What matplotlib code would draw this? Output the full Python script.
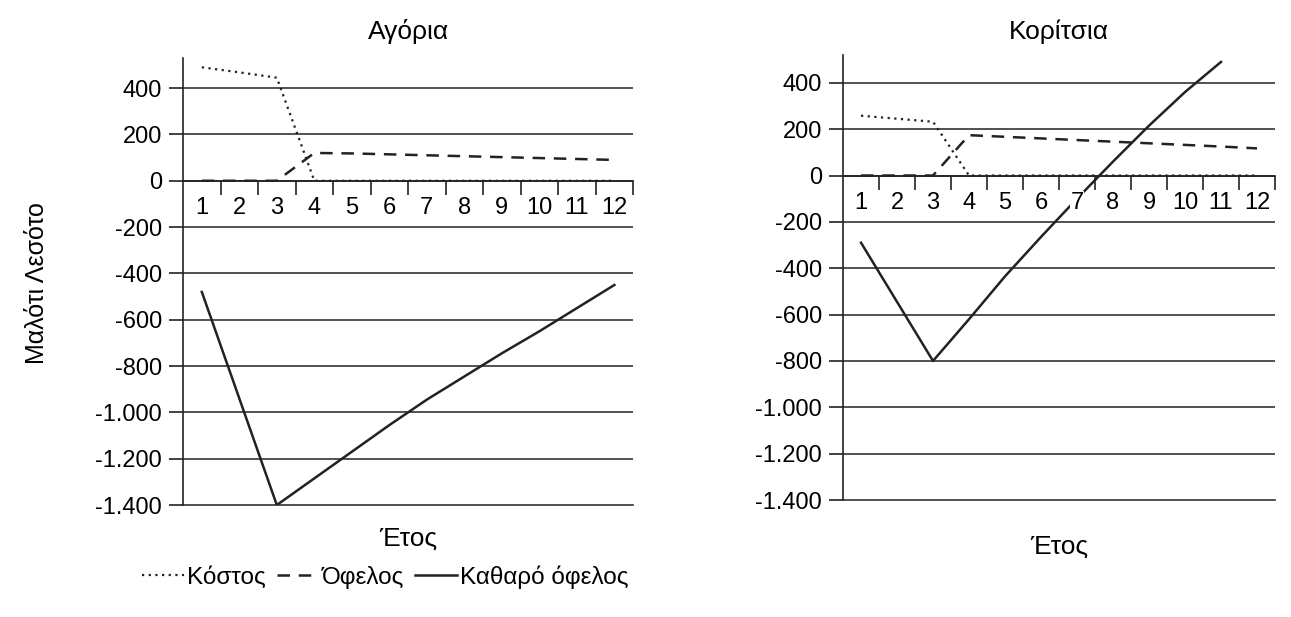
import matplotlib
matplotlib.use("Agg")
import matplotlib.pyplot as plt

# Δεδομένα (τιμές διαβασμένες από το γράφημα)
years = list(range(1, 13))

boys_cost = [490, 468, 445, 0, 0, 0, 0, 0, 0, 0, 0, 0]
boys_benefit = [0, 0, 0, 120, 118, 114, 110, 106, 102, 98, 94, 90]
boys_net = [-480, -940, -1400, -1285, -1170, -1055, -945, -845, -745, -650, -550, -450]

girls_cost = [258, 245, 232, 0, 0, 0, 0, 0, 0, 0, 0, 0]
girls_benefit = [0, 0, 0, 174, 167, 160, 153, 146, 139, 132, 125, 117]
girls_years_net = list(range(1, 12))
girls_net = [-290, -545, -800, -620, -435, -265, -100, 60, 215, 360, 490]

ytick_vals = [400, 200, 0, -200, -400, -600, -800, -1000, -1200, -1400]
ytick_labels = ["400", "200", "0", "-200", "-400", "-600", "-800",
                "-1.000", "-1.200", "-1.400"]

titles = ["Αγόρια", "Κορίτσια"]
xlabel = "Έτος"
ylabel = "Μαλότι Λεσότο"
legend_labels = ["Κόστος", "Όφελος", "Καθαρό όφελος"]

plt.rcParams.update({
    "font.family": ["Liberation Sans", "DejaVu Sans"],
    "font.size": 17,
})

INK = "#222222"

fig = plt.figure(figsize=(12.91, 6.17), dpi=100)
ax1 = fig.add_axes([0.1418, 0.1815, 0.3486, 0.7245])
ax2 = fig.add_axes([0.653, 0.1896, 0.3346, 0.7213])


def draw_panel(ax, cost, benefit, net_x, net, title, ytop, xlab_y, tpad):
    l1, = ax.plot(years, cost, linestyle=(0, (1, 2)), color=INK, lw=1.6)
    l2, = ax.plot(years, benefit, linestyle=(0, (5, 3.5)), color=INK, lw=1.8)
    l3, = ax.plot(net_x, net, linestyle="-", color=INK, lw=1.8)

    ax.set_xlim(0.5, 12.5)
    ax.set_ylim(-1400, ytop)

    # άξονας x πάνω στο μηδέν
    for s in ["top", "right"]:
        ax.spines[s].set_visible(False)
    ax.spines["bottom"].set_position(("data", 0))
    for s in ["bottom", "left"]:
        ax.spines[s].set_color(INK)
        ax.spines[s].set_linewidth(1.2)

    ax.set_xticks([y + 0.5 for y in years])
    ax.set_xticklabels([])
    ax.set_xticks(years, minor=True)
    ax.set_xticklabels([str(y) for y in years], minor=True)
    ax.tick_params(axis="x", which="major", direction="out", length=10,
                   width=1.2, color=INK)
    ax.tick_params(axis="x", which="minor", length=0, pad=12, labelsize=17)
    for lbl in ax.get_xticklabels(minor=True):
        lbl.set_bbox(dict(facecolor="white", edgecolor="none", pad=0.5))
    ax.xaxis.set_zorder(3)

    ax.set_yticks(ytick_vals)
    ax.set_yticklabels(ytick_labels)
    ax.tick_params(axis="y", direction="out", length=10, width=1.2,
                   color=INK, labelsize=17, pad=5)
    ax.yaxis.grid(True, color="#333333", lw=1.2)
    ax.yaxis.get_gridlines()[-1].set_clip_on(False)

    ax.set_title(title, fontsize=19, pad=tpad)
    ax.text(0.5, xlab_y, xlabel, transform=ax.transAxes, ha="center",
            va="center", fontsize=19)
    return l1, l2, l3


handles = draw_panel(ax1, boys_cost, boys_benefit, years, boys_net,
                     titles[0], 530, -0.075, 14)
draw_panel(ax2, girls_cost, girls_benefit, girls_years_net, girls_net,
           titles[1], 520, -0.105, 11.5)

fig.text(0.029, 0.541, ylabel, rotation=90, ha="center", va="center",
         fontsize=18)

fig.legend(handles, legend_labels, loc="center left",
           bbox_to_anchor=(0.093, 0.065), ncol=3, frameon=False,
           handlelength=1.75, handletextpad=0.1, columnspacing=0.45,
           prop={"size": 17.5})

fig.savefig("out.png", dpi=100)
